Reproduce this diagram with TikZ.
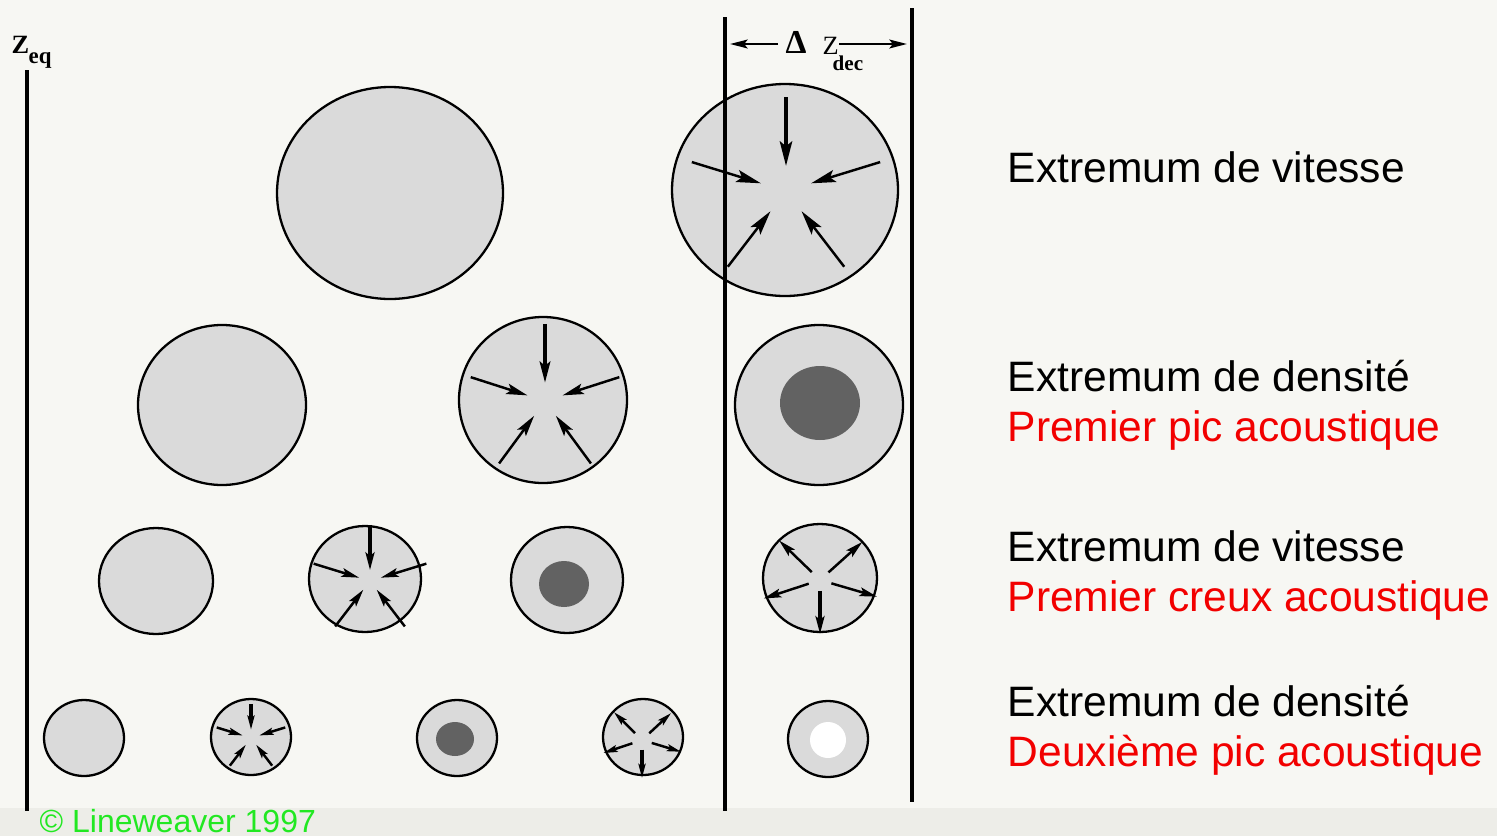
\documentclass[tikz,border=0pt]{standalone}
\usepackage{fontspec}
\setmainfont{Liberation Serif}
\newfontfamily\labelfont{Liberation Sans}
\usetikzlibrary{arrows.meta}

\definecolor{paper}{RGB}{247,247,243}
\definecolor{paperband}{RGB}{237,237,232}
\definecolor{blobfill}{RGB}{218,218,218}
\definecolor{corefill}{RGB}{98,98,98}
\definecolor{labelred}{RGB}{242,0,0}
\definecolor{creditgreen}{RGB}{34,232,34}

\tikzset{
  blob/.style={draw=black, line width=0.65pt, fill=blobfill},
  core/.style={fill=corefill},
  hole/.style={fill=white},
  epoch/.style={line width=0.9pt},
  flow/.style={line width=0.7pt, -{Stealth[length=#1, width'=0pt 0.5, inset'=0pt 0.2]}},
  flow/.default=5pt,
  caption/.style={anchor=base west, inner sep=0pt, font=\labelfont\fontsize{12.1}{14}\selectfont},
}

% inward flow: centre x, centre y, x radius, y radius, tail fraction, tip fraction, head length
\newcommand\inflow[7]{%
  \foreach \a in {18,162,234,306}
    \draw[flow=#7] ({#1+#5*#3*cos(\a)},{#2-#5*#4*sin(\a)}) -- ({#1+#6*#3*cos(\a)},{#2-#6*#4*sin(\a)});
  \draw[flow=#7, line width=1.1pt] (#1,{#2-#5*#4}) -- (#1,{#2-#6*#4});
}
% outward flow: same arguments, tail near the centre
\newcommand\outflow[7]{%
  \foreach \a in {45,133,200,342}
    \draw[flow=#7] ({#1+#5*#3*cos(\a)},{#2-#5*#4*sin(\a)}) -- ({#1+#6*#3*cos(\a)},{#2-#6*#4*sin(\a)});
  \draw[flow=#7, line width=1.1pt] (#1,{#2+#5*#4}) -- (#1,{#2+#6*#4});
}

\begin{document}
\begin{tikzpicture}[x=0.01cm, y=-0.01cm]
  \useasboundingbox (0,0) rectangle (1497,836);
  \fill[paper] (0,0) rectangle (1497,836);
  \fill[paperband] (0,808) rectangle (1497,836);

  % epoch lines
  \draw[epoch] (27,70) -- (27,811);
  \draw[epoch] (725,17) -- (725,811);
  \draw[epoch] (912,8) -- (912,802);

  % redshift labels
  \node[anchor=base west, inner sep=0pt, font=\bfseries\fontsize{7.5}{8}\selectfont] (zeq) at (11,53) {Z};
  \node[anchor=base west, inner sep=0pt, font=\bfseries\fontsize{6.5}{7}\selectfont] (zeqsub) at (28,63) {eq};
  \node[anchor=base west, inner sep=0pt, font=\bfseries\fontsize{9.5}{10}\selectfont] (delta) at (785,53) {Δ};
  \node[anchor=base west, inner sep=0pt, font=\fontsize{7.5}{8}\selectfont] (zdec) at (822,54) {Z};
  \node[anchor=base west, inner sep=0pt, font=\bfseries\fontsize{6}{7}\selectfont] (zdecsub) at (832,70) {dec};
  \coordinate (dl0) at (778,44);
  \coordinate (dl1) at (730,44);
  \coordinate (dr0) at (839,44);
  \coordinate (dr1) at (907,44);
  \draw[flow=5pt] (dl0) -- (dl1);
  \draw[flow=5pt] (dr0) -- (dr1);

  % row 1
  \draw[blob] (390,193) ellipse [x radius=113, y radius=106];
  \draw[blob] (785,190) ellipse [x radius=113, y radius=106];
  \draw[epoch] (725,70) -- (725,310);
  \inflow{786}{191}{110}{104}{0.9}{0.24}{7pt}

  % row 2
  \draw[blob] (222,405) ellipse [x radius=84, y radius=80];
  \draw[blob] (543,400) ellipse [x radius=84, y radius=83];
  \inflow{545}{401}{84}{83}{0.93}{0.22}{6pt}
  \draw[blob] (819,405) ellipse [x radius=84, y radius=80];
  \fill[core] (820,403) ellipse [x radius=40, y radius=37];

  % row 3
  \draw[blob] (156,581) ellipse [x radius=57, y radius=53];
  \draw[blob] (365,579) ellipse [x radius=56, y radius=53];
  \inflow{370}{581}{57}{54}{1.04}{0.2}{5pt}
  \draw[blob] (567,580) ellipse [x radius=56, y radius=53];
  \fill[core] (564,584) ellipse [x radius=25, y radius=23];
  \draw[blob] (820,578) ellipse [x radius=57, y radius=54];
  \outflow{820}{580}{60}{54}{0.2}{1.0}{5pt}

  % row 4
  \draw[blob] (84,738) ellipse [x radius=40, y radius=38];
  \draw[blob] (251,737) ellipse [x radius=40, y radius=38];
  \inflow{251}{738}{40}{38}{0.9}{0.22}{4pt}
  \draw[blob] (457,738) ellipse [x radius=40, y radius=38];
  \fill[core] (455,739) ellipse [x radius=19, y radius=17];
  \draw[blob] (643,737) ellipse [x radius=40, y radius=38];
  \outflow{642}{740}{41}{38}{0.25}{1.0}{4pt}
  \draw[blob] (828,739) ellipse [x radius=40, y radius=38];
  \fill[hole] (828,740) circle [radius=18];

  % captions
  \node[caption] (c1) at (1007,182) {Extremum de vitesse};
  \node[caption] (c2) at (1007,391) {Extremum de densité};
  \node[caption, text=labelred] (c2b) at (1007,441) {Premier pic acoustique};
  \node[caption] (c3) at (1007,561) {Extremum de vitesse};
  \node[caption, text=labelred] (c3b) at (1007,611) {Premier creux acoustique};
  \node[caption] (c4) at (1007,716) {Extremum de densité};
  \node[caption, text=labelred] (c4b) at (1007,766) {Deuxième pic acoustique};

  % credit
  \node[anchor=base west, inner sep=0pt, text=creditgreen, font=\labelfont\fontsize{9.1}{11}\selectfont] (credit) at (39,832) {© Lineweaver 1997};
\end{tikzpicture}
\end{document}
